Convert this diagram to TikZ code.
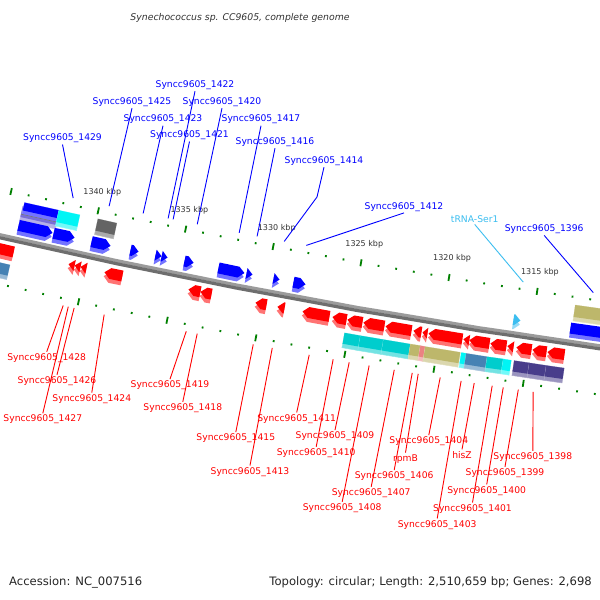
\documentclass[tikz,border=0pt]{standalone}
\usepackage{fontspec}
\setmainfont{DejaVu Sans}

\definecolor{genered}{RGB}{255,0,0}
\definecolor{geneblue}{RGB}{0,0,255}
\definecolor{domcyan}{RGB}{0,205,205}
\definecolor{brcyan}{RGB}{0,245,245}
\definecolor{domkhaki}{RGB}{189,183,107}
\definecolor{dompink}{RGB}{235,130,130}
\definecolor{domsteel}{RGB}{70,130,180}
\definecolor{domslate}{RGB}{72,61,139}
\definecolor{domlav}{RGB}{120,110,215}
\definecolor{domgray}{RGB}{100,100,100}
\definecolor{trnablue}{RGB}{60,190,240}
\definecolor{tickgreen}{RGB}{0,128,0}
\definecolor{labelgray}{RGB}{51,51,51}
\definecolor{backlight}{RGB}{155,155,155}
\definecolor{backdark}{RGB}{110,110,110}

% one feature on the map circle (centre at 1581,-6630)
% #1 x left, #2 x right, #3 inner radius, #4 outer radius,
% #5 direction (1 right, -1 left, 0 box), #6 colour
\newcommand{\feat}[6]{%
  \pgfmathsetmacro\ftrc{(#3+#4)/2}%
  \pgfmathsetmacro\ftal{acos(((#1)-1581)/\ftrc)}%
  \pgfmathsetmacro\ftar{acos(((#2)-1581)/\ftrc)}%
  \pgfmathsetmacro\fthd{min(6,(#2)-(#1))*57.29578/\ftrc}%
  \pgfmathsetmacro\ftrs{#3+4}%
  \pgfmathsetmacro\ftrf{#4-4}%
  \pgfmathsetmacro\ftcs{(\ftrs+#4)/2}%
  \pgfmathsetmacro\ftcf{(#3+\ftrf)/2}%
  \ifnum#5=1
    \pgfmathsetmacro\ftas{\ftar+\fthd}%
    \fill[#6!55!white] (\ftal:\ftrs) -- (\ftas:\ftrs) -- (\ftar:\ftcs) -- (\ftas:#4) -- (\ftal:#4) -- cycle;
    \fill[#6] (\ftal:#3) -- (\ftas:#3) -- (\ftar:\ftcf) -- (\ftas:\ftrf) -- (\ftal:\ftrf) -- cycle;
  \else\ifnum#5=-1
    \pgfmathsetmacro\ftas{\ftal-\fthd}%
    \fill[#6!55!white] (\ftar:\ftrs) -- (\ftas:\ftrs) -- (\ftal:\ftcs) -- (\ftas:#4) -- (\ftar:#4) -- cycle;
    \fill[#6] (\ftar:#3) -- (\ftas:#3) -- (\ftal:\ftcf) -- (\ftas:\ftrf) -- (\ftar:\ftrf) -- cycle;
  \else
    \fill[#6!55!white, draw=#6!45!white, line width=0.5] (\ftal:#3) -- (\ftar:#3) -- (\ftar:#4) -- (\ftal:#4) -- cycle;
    \fill[#6] (\ftal:#3) -- (\ftar:#3) -- (\ftar:\ftrf) -- (\ftal:\ftrf) -- cycle;
  \fi\fi}

% end point of a leader line
\newcommand{\leadend}[3]{%
  \pgfmathsetmacro\ftle{acos(((#2)-1581)/#3)}%
  \coordinate (#1) at (\ftle:#3);}

\begin{document}
\begin{tikzpicture}[x=1pt, y=-1pt,
    lbl/.style={inner sep=1.5pt, font=\fontsize{9.2}{10}\selectfont},
    fwdlbl/.style={lbl, text=geneblue},
    revlbl/.style={lbl, text=genered},
    fwdlead/.style={draw=geneblue, line width=0.9},
    revlead/.style={draw=genered, line width=0.9},
    kbplbl/.style={inner sep=0pt, font=\fontsize{8}{9}\selectfont, text=labelgray},
    majortick/.style={draw=tickgreen, line width=1.8},
    minortick/.style={draw=tickgreen, line width=1.8},
]

\fill[white] (0,0) rectangle (600,600);
\useasboundingbox (0,0) rectangle (600,600);

% Title
\node[font=\fontsize{9.3}{11}\selectfont\itshape, text=labelgray] (title) at (240,18)
  {Synechococcus sp. CC9605, complete genome};

\begin{scope}
\clip (0,0) rectangle (600,600);
\begin{scope}[shift={(1581,-6630)}]

% backbone
\draw[line width=3.2, color=backlight] plot[domain=97.5:103.5, samples=25] (\x:7044.5);
\draw[line width=3.2, color=backdark] plot[domain=97.5:103.5, samples=25] (\x:7047.5);

% ticks, inner and outer ring
\foreach \k in {1311,...,1346} {
  \pgfmathsetmacro\ta{98.577+0.14614*(\k-1315)}
  \pgfmathtruncatemacro\km{mod(\k,5)}
  \ifnum\km=0
    \draw[majortick] (\ta:6996.5) -- (\ta:7003.5);
    \draw[majortick] (\ta:7089.5) -- (\ta:7096.5);
  \else
    \draw[minortick] (\ta:6999) -- (\ta:7001);
    \draw[minortick] (\ta:7092) -- (\ta:7094);
  \fi
}
\foreach \k in {1315,1320,...,1340} {
  \pgfmathsetmacro\ta{98.577+0.14614*(\k-1315)}
  \node[kbplbl] (kbp\k) at (\ta:6981) {\k\ kbp};
}

% ============ upper feature row ============
\feat{21}{57}{7012}{7027}{0}{domlav}
\feat{23}{58}{7008}{7020}{0}{geneblue}
\draw[black!55, line width=0.6] ({acos(-1560/7020)}:7020) -- ({acos(-1524/7020)}:7020);
\feat{57}{78}{7008}{7024}{0}{brcyan}
\feat{96}{115}{7008}{7024}{0}{domgray}
\feat{574}{640}{7008}{7024}{0}{domkhaki}

% ============ genes, inner strand (right) ============
\feat{18}{52}{7026}{7041}{1}{geneblue}
\feat{53}{74}{7026}{7041}{1}{geneblue}
\feat{91}{110}{7026}{7041}{1}{geneblue}
\feat{130}{138}{7026}{7041}{1}{geneblue}
\feat{155}{161}{7026}{7041}{1}{geneblue}
\feat{161}{167}{7026}{7041}{1}{geneblue}
\feat{184}{193}{7026}{7041}{1}{geneblue}
\feat{218}{244}{7026}{7041}{1}{geneblue}
\feat{246}{252}{7026}{7041}{1}{geneblue}
\feat{273}{279}{7026}{7041}{1}{geneblue}
\feat{293}{305}{7026}{7041}{1}{geneblue}
\feat{513}{520}{7026}{7041}{1}{trnablue}
\feat{570}{650}{7026}{7041}{1}{geneblue}

% ============ genes, outer strand (left) ============
\feat{-40}{13}{7053}{7068}{-1}{genered}
\feat{68}{74}{7053}{7068}{-1}{genered}
\feat{74}{80}{7053}{7068}{-1}{genered}
\feat{80}{86}{7053}{7068}{-1}{genered}
\feat{104}{122}{7053}{7068}{-1}{genered}
\feat{188}{200}{7053}{7068}{-1}{genered}
\feat{200}{211}{7053}{7068}{-1}{genered}
\feat{255}{266}{7053}{7068}{-1}{genered}
\feat{277}{284}{7053}{7068}{-1}{genered}
\feat{302}{329}{7053}{7068}{-1}{genered}
\feat{332}{346}{7053}{7068}{-1}{genered}
\feat{347}{362}{7053}{7068}{-1}{genered}
\feat{363}{384}{7053}{7068}{-1}{genered}
\feat{385}{411}{7053}{7068}{-1}{genered}
\feat{413}{421}{7053}{7068}{-1}{genered}
\feat{422}{427}{7053}{7068}{-1}{genered}
\feat{428}{462}{7053}{7068}{-1}{genered}
\feat{463}{469}{7053}{7068}{-1}{genered}
\feat{469}{489}{7053}{7068}{-1}{genered}
\feat{490}{506}{7053}{7068}{-1}{genered}
\feat{507}{513}{7053}{7068}{-1}{genered}
\feat{516}{531}{7053}{7068}{-1}{genered}
\feat{532}{546}{7053}{7068}{-1}{genered}
\feat{547}{564}{7053}{7068}{-1}{genered}

% ============ lower feature row ============
\feat{-40}{8}{7072}{7087}{0}{domsteel}
\feat{343}{359}{7072}{7087}{0}{domcyan}
\feat{359}{382}{7072}{7087}{0}{domcyan}
\feat{382}{409}{7072}{7087}{0}{domcyan}
\feat{409}{419}{7072}{7087}{0}{domkhaki}
\feat{419}{424}{7072}{7087}{0}{dompink}
\feat{424}{459}{7072}{7087}{0}{domkhaki}
\feat{460}{465}{7072}{7087}{0}{brcyan}
\feat{465}{486}{7072}{7087}{0}{domsteel}
\feat{486}{502}{7072}{7087}{0}{domcyan}
\feat{502}{510}{7072}{7087}{0}{brcyan}
\feat{513}{528}{7072}{7087}{0}{domslate}
\feat{528}{545}{7072}{7087}{0}{domslate}
\feat{545}{563}{7072}{7087}{0}{domslate}

% leader ends
\leadend{e1429}{73}{6993}
\leadend{e1425}{109}{6993}
\leadend{e1423}{143}{6993}
\leadend{e1422}{168}{6993}
\leadend{e1421}{173}{6993}
\leadend{e1420}{197}{6993}
\leadend{e1417}{239}{6993}
\leadend{e1416}{257}{6993}
\leadend{e1414}{284}{6993}
\leadend{e1412}{306}{6993}
\leadend{etrna}{523}{6993}
\leadend{e1396}{593}{6993}

\leadend{e1428}{63}{7100}
\leadend{e1427}{68}{7100}
\leadend{e1426}{74}{7100}
\leadend{e1424}{104}{7100}
\leadend{e1419}{186}{7100}
\leadend{e1418}{197}{7100}
\leadend{e1415}{253}{7100}
\leadend{e1413}{272}{7100}
\leadend{e1411}{309}{7100}
\leadend{e1410}{333}{7100}
\leadend{e1409}{349}{7100}
\leadend{e1408}{369}{7100}
\leadend{e1407}{394}{7100}
\leadend{e1406}{412}{7100}
\leadend{erpmB}{418}{7100}
\leadend{e1404}{440}{7100}
\leadend{e1403}{461}{7100}
\leadend{ehisZ}{474}{7100}
\leadend{e1401}{492}{7100}
\leadend{e1400}{503}{7100}
\leadend{e1399}{518}{7100}
\leadend{e1398}{533}{7100}
\end{scope}
\end{scope}

% ============ labels, inner strand ============
\node[fwdlbl] (l1422) at (195,85) {Syncc9605\_1422};
\node[fwdlbl] (l1425) at (132,102) {Syncc9605\_1425};
\node[fwdlbl] (l1420) at (222,102) {Syncc9605\_1420};
\node[fwdlbl] (l1423) at (163,119.5) {Syncc9605\_1423};
\node[fwdlbl] (l1417) at (261,119.5) {Syncc9605\_1417};
\node[fwdlbl] (l1429) at (62.5,138.3) {Syncc9605\_1429};
\node[fwdlbl] (l1421) at (189.5,135.3) {Syncc9605\_1421};
\node[fwdlbl] (l1416) at (275,142) {Syncc9605\_1416};
\node[fwdlbl] (l1414) at (324,161) {Syncc9605\_1414};
\node[fwdlbl] (l1412) at (404,206.7) {Syncc9605\_1412};
\node[fwdlbl, text=trnablue] (ltrna) at (474.7,219.2) {tRNA-Ser1};
\node[fwdlbl] (l1396) at (544.2,229.2) {Syncc9605\_1396};
\coordinate (k1414) at (317,197);

\draw[fwdlead] (l1429.south) -- (e1429);
\draw[fwdlead] (l1425.south) -- (e1425);
\draw[fwdlead] (l1423.south) -- (e1423);
\draw[fwdlead] (l1422.south) -- (e1422);
\draw[fwdlead] (l1421.south) -- (e1421);
\draw[fwdlead] (l1420.south) -- (e1420);
\draw[fwdlead] (l1417.south) -- (e1417);
\draw[fwdlead] (l1416.south) -- (e1416);
\draw[fwdlead] (l1414.south) -- (k1414) -- (e1414);
\draw[fwdlead] (l1412.south) -- (e1412);
\draw[fwdlead, draw=trnablue] (ltrna.south) -- (etrna);
\draw[fwdlead] (l1396.south) -- (e1396);

% ============ labels, outer strand ============
\node[revlbl] (l1428) at (46.7,358) {Syncc9605\_1428};
\node[revlbl] (l1426) at (57,381) {Syncc9605\_1426};
\node[revlbl] (l1424) at (91.8,398.8) {Syncc9605\_1424};
\node[revlbl] (l1427) at (42.8,419.5) {Syncc9605\_1427};
\node[revlbl] (l1419) at (170,385.3) {Syncc9605\_1419};
\node[revlbl] (l1418) at (182.8,408) {Syncc9605\_1418};
\node[revlbl] (l1415) at (235.8,438.3) {Syncc9605\_1415};
\node[revlbl] (l1413) at (250,471.7) {Syncc9605\_1413};
\node[revlbl] (l1411) at (296.7,418.7) {Syncc9605\_1411};
\node[revlbl] (l1409) at (335,436.3) {Syncc9605\_1409};
\node[revlbl] (l1410) at (316.2,453) {Syncc9605\_1410};
\node[revlbl] (l1408) at (342.2,508) {Syncc9605\_1408};
\node[revlbl] (l1407) at (371.2,493) {Syncc9605\_1407};
\node[revlbl] (l1406) at (394.2,476.3) {Syncc9605\_1406};
\node[revlbl] (lrpmB) at (405.5,458.7) {rpmB};
\node[revlbl] (l1404) at (428.8,441.3) {Syncc9605\_1404};
\node[revlbl] (lhisZ) at (462,454.7) {hisZ};
\node[revlbl] (l1403) at (437.2,524.7) {Syncc9605\_1403};
\node[revlbl] (l1401) at (472.5,508.7) {Syncc9605\_1401};
\node[revlbl] (l1400) at (486.7,490.7) {Syncc9605\_1400};
\node[revlbl] (l1399) at (505,473) {Syncc9605\_1399};
\node[revlbl] (l1398) at (532.8,457) {Syncc9605\_1398};

\draw[revlead] (l1428.north) -- (e1428);
\draw[revlead] (l1427.north) -- (e1427);
\draw[revlead] (l1426.north) -- (e1426);
\draw[revlead] (l1424.north) -- (e1424);
\draw[revlead] (l1419.north) -- (e1419);
\draw[revlead] (l1418.north) -- (e1418);
\draw[revlead] (l1415.north) -- (e1415);
\draw[revlead] (l1413.north) -- (e1413);
\draw[revlead] (l1411.north) -- (e1411);
\draw[revlead] (l1410.north) -- (e1410);
\draw[revlead] (l1409.north) -- (e1409);
\draw[revlead] (l1408.north) -- (e1408);
\draw[revlead] (l1407.north) -- (e1407);
\draw[revlead] (l1406.north) -- (e1406);
\draw[revlead] (lrpmB.north) -- (erpmB);
\draw[revlead] (l1404.north) -- (e1404);
\draw[revlead] (l1403.north) -- (e1403);
\draw[revlead] (lhisZ.north) -- (ehisZ);
\draw[revlead] (l1401.north) -- (e1401);
\draw[revlead] (l1400.north) -- (e1400);
\draw[revlead] (l1399.north) -- (e1399);
\draw[revlead] (l1398.north) -- (e1398);

% Footer
\node[anchor=west, inner sep=0pt, font=\fontsize{11.6}{13}\selectfont, text=black!85] (acc) at (9,582)
  {Accession: NC\_007516};
\node[anchor=east, inner sep=0pt, font=\fontsize{11.6}{13}\selectfont, text=black!85] (topo) at (592,582)
  {Topology: circular; Length: 2,510,659 bp; Genes: 2,698};

\end{tikzpicture}
\end{document}
